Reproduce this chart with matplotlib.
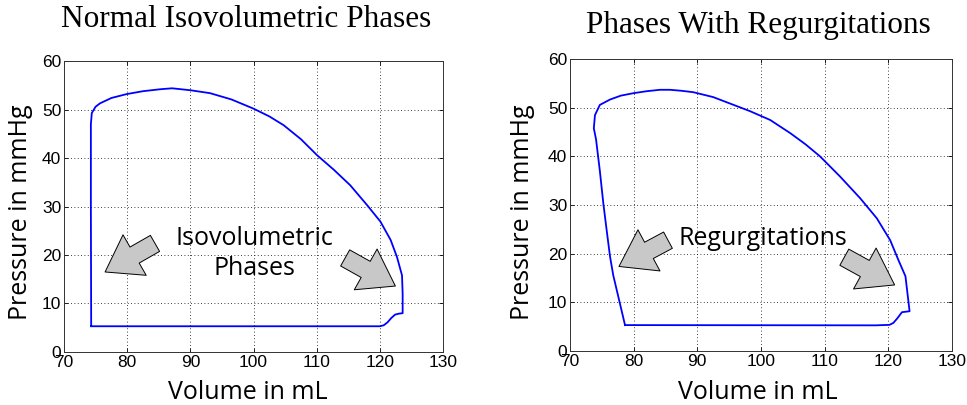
import matplotlib.pyplot as plt

# left loop: normal isovolumetric phases (volume mL, pressure mmHg)
vol_normal = [74.3, 74.25, 74.25, 74.4, 75.0, 75.7, 77.5, 79.9, 82.5, 85.2, 87.1, 90.0, 93.1,
              96.5, 100.0, 102.5, 104.75, 107.5, 110.05, 112.7, 115.3, 117.97, 120.08, 121.7,
              122.7, 123.5, 123.6, 123.6, 123.0, 122.4, 121.8, 121.2, 120.6, 120.0, 118.0, 74.3]
pres_normal = [5.4, 30.0, 47.0, 49.3, 50.6, 51.3, 52.4, 53.2, 53.8, 54.2, 54.4, 54.0, 53.4,
               52.1, 50.2, 48.6, 46.8, 43.9, 40.6, 37.6, 34.4, 30.3, 26.9, 23.1,
               19.6, 15.8, 12.0, 8.0, 7.9, 7.7, 7.0, 6.1, 5.5, 5.3, 5.3, 5.3]

# right loop: phases with regurgitations
vol_regurg = [78.65, 76.8, 76.3, 75.8, 75.24, 74.7, 74.1, 73.75, 73.93, 74.7, 76.3, 78.0, 79.96,
              82.0, 84.15, 85.7, 87.5, 89.4, 92.5, 95.7, 98.3, 101.45, 104.6, 107.0, 109.3,
              112.45, 115.6, 118.2, 120.3, 121.6, 122.5, 122.7, 123.35, 122.15, 121.4, 120.8,
              120.2, 118.0, 78.65]
pres_regurg = [5.35, 15.6, 19.4, 24.5, 30.4, 37.0, 43.5, 45.8, 48.5, 50.6, 51.7, 52.5, 53.0,
               53.4, 53.7, 53.7, 53.5, 53.2, 52.2, 50.6, 49.3, 47.5, 44.8, 42.5, 40.0,
               35.85, 31.4, 27.3, 22.8, 18.7, 16.0, 15.4, 8.2, 8.0, 6.7, 5.8,
               5.4, 5.3, 5.35]

titles = ["Normal Isovolumetric Phases", "Phases With Regurgitations"]
notes = ["Isovolumetric\nPhases", "Regurgitations"]
note_pos = [(100.1, 20.3), (100.3, 23.2)]
# arrows as (tail, tip) in data units
arrows = [
    [((84.4, 22.4), (76.5, 16.5)), ((114.5, 19.4), (122.45, 13.6))],
    [((85.4, 22.8), (77.7, 17.4)), ((113.1, 19.3), (121.0, 13.6))],
]

xticks = [70, 80, 90, 100, 110, 120, 130]
yticks = [0, 10, 20, 30, 40, 50, 60]

fig = plt.figure(figsize=(9.67, 4.05), dpi=100)
ax1 = fig.add_axes([0.0662, 0.131, 0.392, 0.718])
ax2 = fig.add_axes([0.5894, 0.133, 0.395, 0.721])

label_font = ["Open Sans", "DejaVu Sans"]
title_xy = [(0.2544, 0.951), (0.784, 0.938)]
xlabel_xy = [(0.486, -0.096), (0.492, -0.099)]
ylabel_xy = [(-0.082, 0.479), (-0.092, 0.476)]

for i, (ax, vol, pres) in enumerate([(ax1, vol_normal, pres_normal), (ax2, vol_regurg, pres_regurg)]):
    ax.plot(vol, pres, color="#0000ff", lw=1.3)
    ax.set_xlim(70, 130)
    ax.set_ylim(0, 60)
    ax.set_xticks(xticks)
    ax.set_yticks(yticks)
    ax.tick_params(direction="in", length=3, pad=2, labelsize=12.5, width=0.6,
                   top=True, right=True)
    for lab in ax.get_xticklabels() + ax.get_yticklabels():
        lab.set_fontfamily("Liberation Sans")
    ax.grid(True, color="k", linestyle=(0, (1, 3)), linewidth=0.6)
    for sp in ax.spines.values():
        sp.set_linewidth(0.7)
        sp.set_color("#333333")
    ax.set_xlabel("Volume in mL", family=label_font, fontsize=18)
    ax.set_ylabel("Pressure in mmHg", family=label_font, fontsize=18)
    ax.xaxis.set_label_coords(*xlabel_xy[i])
    ax.yaxis.set_label_coords(*ylabel_xy[i])
    fig.text(title_xy[i][0], title_xy[i][1], titles[i], family="Liberation Serif",
             fontsize=22.5, ha="center", va="center")
    ax.text(note_pos[i][0], note_pos[i][1], notes[i], family=label_font, fontsize=18,
            ha="center", va="center", linespacing=1.3)
    for tail, tip in arrows[i]:
        ax.annotate("", xy=tip, xytext=tail,
                    arrowprops=dict(arrowstyle="simple,head_length=1.75,head_width=2.4,tail_width=0.95",
                                    fc="#c8c8c8", ec="k", lw=0.7, shrinkA=0, shrinkB=0,
                                    mutation_scale=14))

fig.savefig("out.png", dpi=100)
